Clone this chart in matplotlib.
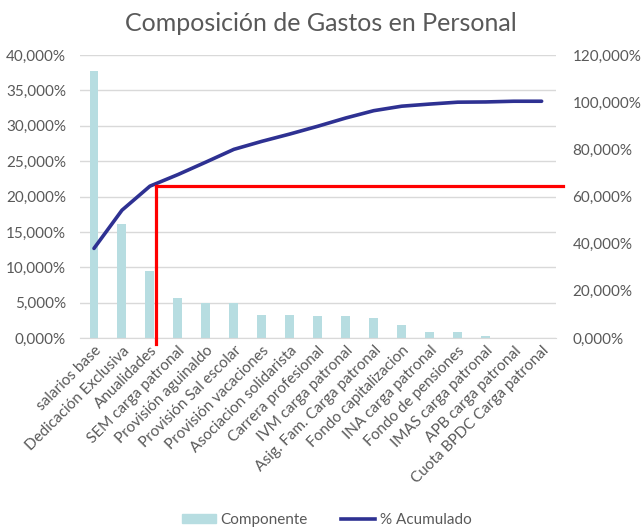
import matplotlib.pyplot as plt
from matplotlib.ticker import FuncFormatter, MultipleLocator
from matplotlib.lines import Line2D
from matplotlib.patches import Patch

plt.rcParams['font.family'] = ['Lato', 'DejaVu Sans']

categorias = ['salarios base', 'Dedicación Exclusiva', 'Anualidades',
              'SEM carga patronal', 'Provisión aguinaldo', 'Provisión Sal escolar',
              'Provisión vacaciones', 'Asociacion solidarista', 'Carrera profesional',
              'IVM carga patronal', 'Asig. Fam. Carga patronal', 'Fondo capitalizacion',
              'INA carga patronal', 'Fondo de pensiones', 'IMAS carga patronal',
              'APB carga patronal', 'Cuota BPDC Carga patronal']
componente = [37.8, 16.1, 9.5, 5.7, 5.0, 5.0, 3.2, 3.2, 3.1, 3.1, 2.9, 1.8,
              0.8, 0.8, 0.25, 0.03, 0.02]
acumulado = [38.0, 54.2, 64.4, 69.3, 74.6, 80.0, 83.4, 86.5, 89.8, 93.3, 96.4,
             98.3, 99.2, 100.0, 100.1, 100.4, 100.4]
corte_x = 2.22
corte_y = 64.4

gris = '#595959'
fig = plt.figure(figsize=(6.41, 5.29), dpi=100)
ax1 = fig.add_axes([0.1248, 0.361, 0.742, 0.535])
ax2 = ax1.twinx()

x = range(len(categorias))
ax1.bar(x, componente, width=0.32, color='#b7dde1', zorder=2)
ax2.plot(x, acumulado, color='#2e3192', lw=2.6, solid_capstyle='round', zorder=3)

# lineas rojas de corte
ax2.plot([corte_x, corte_x], [-2.5, corte_y], color='#ff0000', lw=2.3,
         clip_on=False, zorder=4)
ax2.plot([corte_x, 16.75], [corte_y, corte_y], color='#ff0000', lw=2.3,
         clip_on=False, zorder=4)

ax1.set_xlim(-0.5, 16.5)
ax1.set_ylim(0, 40)
ax2.set_ylim(0, 120)
ax1.yaxis.set_major_locator(MultipleLocator(5))
ax2.yaxis.set_major_locator(MultipleLocator(20))
fmt = FuncFormatter(lambda v, p: f'{v:.3f}'.replace('.', ',') + '%')
ax1.yaxis.set_major_formatter(fmt)
ax2.yaxis.set_major_formatter(fmt)
ax1.grid(axis='y', color='#d9d9d9', lw=1, zorder=0)
ax1.set_axisbelow(True)

for ax in (ax1, ax2):
    for s in ax.spines.values():
        s.set_visible(False)
    ax.tick_params(length=0, colors=gris, labelsize=11)
ax1.spines['bottom'].set_visible(True)
ax1.spines['bottom'].set_color('#d9d9d9')
ax1.tick_params(axis='y', pad=10)
ax2.tick_params(axis='y', pad=12)

ax1.set_xticks(list(x))
ax1.set_xticklabels(categorias, rotation=45, ha='right', rotation_mode='anchor',
                    fontsize=11, color=gris)
ax1.tick_params(axis='x', pad=4)

fig.suptitle('Composición de Gastos en Personal', x=0.5, y=0.978,
             fontsize=18, color=gris)

handles = [Patch(color='#b7dde1'), Line2D([], [], color='#2e3192', lw=2.6)]
fig.legend(handles, ['Componente', '% Acumulado'], loc='center',
           bbox_to_anchor=(0.51, 0.017), ncol=2, frameon=False, fontsize=11,
           labelcolor=gris, handlelength=2.2, handleheight=0.6,
           handletextpad=0.3, columnspacing=2.2)

plt.savefig('out.png', dpi=100)
